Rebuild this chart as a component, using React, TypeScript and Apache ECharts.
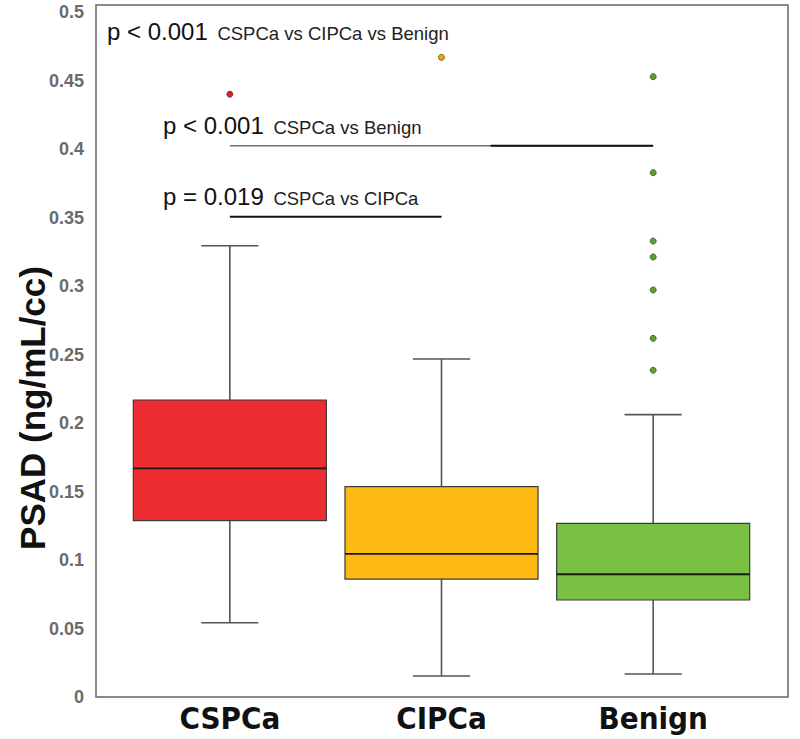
import React, { useEffect, useRef } from "react";
import * as echarts from "echarts";

const categories = ["CSPCa", "CIPCa", "Benign"];
const lowerWhisker = [0.0542, 0.0153, 0.0168];
const q1 = [0.1287, 0.0861, 0.0708];
const median = [0.1669, 0.1044, 0.0896];
const q3 = [0.2168, 0.1535, 0.1268];
const upperWhisker = [0.3294, 0.2467, 0.2061];
const outliersCSPCa = [0.440];
const outliersCIPCa = [0.4669];
const outliersBenign = [0.4528, 0.3827, 0.3328, 0.3212, 0.2971, 0.2618, 0.2385];
const yTicks = { min: 0, max: 0.5, interval: 0.05 };
const boxColors = ["#ED2D31", "#FDBA13", "#7AC143"];
const dotColors = ["#C6282B", "#E8A80E", "#5E9E3A"];
const dotBorders = ["#A0202A", "#8A6A10", "#3E6E28"];
const barCSPCaBenign = 0.4024;
const barCSPCaCIPCa = 0.3506;

const FONT = "'Liberation Sans', Arial, sans-serif";
const NARROW = "'Liberation Sans Narrow', 'Arial Narrow', 'DejaVu Sans Condensed', 'Liberation Sans', sans-serif";

const richStyles = {
  p: { fontFamily: FONT, fontSize: 24, fill: "#111", verticalAlign: "bottom" },
  s: { fontFamily: FONT, fontSize: 18.5, fill: "#222", verticalAlign: "bottom", padding: [0, 0, 0, 3] },
};

export default function App() {
  const ref = useRef<HTMLDivElement>(null);
  useEffect(() => {
    if (!ref.current) return;
    const chart = echarts.init(ref.current, undefined, { renderer: "svg" });
    const boxData = categories.map((_, i) => [i, lowerWhisker[i], q1[i], median[i], q3[i], upperWhisker[i]]);
    const outlierSets = [outliersCSPCa, outliersCIPCa, outliersBenign];
    const option: any = {
      animation: false,
      backgroundColor: "#ffffff",
      grid: { left: 124, right: 41, top: 12, bottom: 42 },
      xAxis: [
        {
          type: "category",
          data: categories,
          axisLine: { show: false },
          axisTick: { show: false },
          axisLabel: { fontFamily: NARROW, fontWeight: "bold", fontSize: 31, color: "#111", margin: 5 },
        },
        { type: "value", min: -0.5, max: 2.5, show: false },
      ],
      yAxis: {
        type: "value",
        min: yTicks.min,
        max: yTicks.max,
        interval: yTicks.interval,
        axisLine: { show: false },
        axisTick: { show: false },
        splitLine: { show: false },
        axisLabel: { fontFamily: FONT, fontWeight: "bold", fontSize: 18, color: "#6b6b6b", margin: 40, align: "right" },
      },
      graphic: [
        { type: "rect", shape: { x: 96, y: 5, width: 692, height: 692 }, style: { fill: "none", stroke: "#666", lineWidth: 1.5 }, z: 10 },
        {
          type: "text", x: 32, y: 408, rotation: Math.PI / 2,
          style: { text: "PSAD (ng/mL/cc)", fontFamily: FONT, fontWeight: "bold", fontSize: 35, fill: "#111", align: "center", verticalAlign: "middle" },
        },
        {
          type: "text", x: 107, y: 43,
          style: { text: "{p|p < 0.001 }{s|CSPCa vs CIPCa vs Benign}", verticalAlign: "bottom", rich: richStyles },
        },
        {
          type: "text", x: 163, y: 137,
          style: { text: "{p|p < 0.001 }{s|CSPCa vs Benign}", verticalAlign: "bottom", rich: richStyles },
        },
        {
          type: "text", x: 163, y: 208,
          style: { text: "{p|p = 0.019 }{s|CSPCa vs CIPCa}", verticalAlign: "bottom", rich: richStyles },
        },
      ],
      series: [
        {
          type: "custom",
          data: boxData,
          encode: { x: 0, y: [1, 2, 3, 4, 5] },
          renderItem: (params: any, api: any) => {
            const idx = api.value(0);
            const lo = api.coord([idx, api.value(1)]);
            const b1 = api.coord([idx, api.value(2)]);
            const md = api.coord([idx, api.value(3)]);
            const b3 = api.coord([idx, api.value(4)]);
            const hi = api.coord([idx, api.value(5)]);
            const band = api.size([1, 0])[0];
            const bw = band * 0.912;
            const cw = band * 0.27;
            const cx = lo[0];
            const ws = { stroke: "#555", lineWidth: 1.6 };
            return {
              type: "group",
              children: [
                { type: "line", shape: { x1: cx, y1: hi[1], x2: cx, y2: b3[1] }, style: ws },
                { type: "line", shape: { x1: cx, y1: b1[1], x2: cx, y2: lo[1] }, style: ws },
                { type: "line", shape: { x1: cx - cw / 2, y1: hi[1], x2: cx + cw / 2, y2: hi[1] }, style: ws },
                { type: "line", shape: { x1: cx - cw / 2, y1: lo[1], x2: cx + cw / 2, y2: lo[1] }, style: ws },
                { type: "rect", shape: { x: cx - bw / 2, y: b3[1], width: bw, height: b1[1] - b3[1] }, style: { fill: boxColors[idx], stroke: "#3c3c3c", lineWidth: 1.2 } },
                { type: "line", shape: { x1: cx - bw / 2, y1: md[1], x2: cx + bw / 2, y2: md[1] }, style: { stroke: "#1a1a1a", lineWidth: 1.8 } },
              ],
            };
          },
        },
        ...outlierSets.map((set, i) => ({
          type: "scatter",
          data: set.map((v) => [categories[i], v]),
          symbolSize: 6,
          itemStyle: { color: dotColors[i], borderColor: dotBorders[i], borderWidth: 1, opacity: 1 },
        })),
        {
          type: "line",
          data: [[categories[0], barCSPCaBenign], [categories[2], barCSPCaBenign]],
          symbol: "none",
          lineStyle: { color: "#707070", width: 1.6 },
        },
        {
          type: "line",
          xAxisIndex: 1,
          data: [[1.232, barCSPCaBenign], [2, barCSPCaBenign]],
          symbol: "none",
          lineStyle: { color: "#111", width: 2 },
        },
        {
          type: "line",
          data: [[categories[0], barCSPCaCIPCa], [categories[1], barCSPCaCIPCa]],
          symbol: "none",
          lineStyle: { color: "#111", width: 2 },
        },
      ],
    };
    chart.setOption(option);
    return () => chart.dispose();
  }, []);
  return <div ref={ref} style={{ position: "fixed", left: 0, top: 0, width: 800, height: 739, background: "#fff" }} />;
}
